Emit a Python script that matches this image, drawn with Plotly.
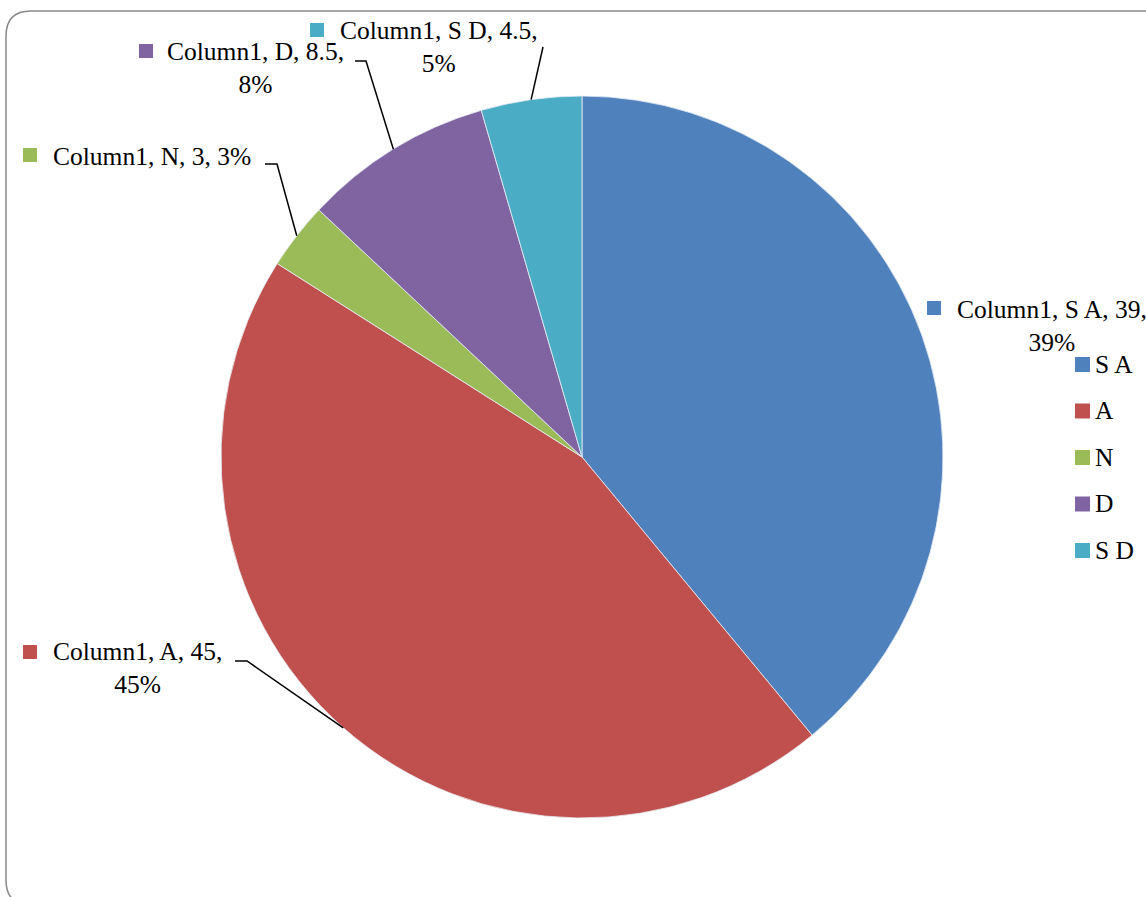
import numpy as np
import plotly.graph_objects as go

# ---- data ----
categories = ["S A", "A", "N", "D", "S D"]
values = [39, 45, 3, 8.5, 4.5]
pct_labels = ["39%", "45%", "3%", "8%", "5%"]
series_name = "Column1"
colors = ["#4F81BD", "#C0504D", "#9BBB59", "#8064A2", "#4BACC6"]

# ---- layout constants (pixels) ----
W, H = 1146, 897
CX, CY, R = 582, 457, 361
FONT = "Liberation Serif"
FS = 25.5


def px(x):
    return x / W


def py(y):
    return 1 - y / H


# data label placement (pixel positions of callouts)
label_layout = {
    "S A": dict(sq=(927, 301), tx=955, ty=326, wrap=True, lead=None),
    "A": dict(sq=(23, 645), tx=51, ty=668, wrap=True, lead=[(235, 661), (247, 661)]),
    "N": dict(sq=(23, 148), tx=51, ty=157, wrap=False, lead=[(265, 164), (277, 164)]),
    "D": dict(sq=(139, 44), tx=165, ty=68, wrap=True, lead=[(355, 61), (366, 61)]),
    "S D": dict(sq=(310, 23), tx=338, ty=47, wrap=True, lead=[(543, 47)]),
}

fig = go.Figure(
    go.Pie(
        labels=categories,
        values=values,
        sort=False,
        direction="clockwise",
        rotation=0,
        marker=dict(colors=colors, line=dict(color="#e8eef6", width=0.8)),
        textinfo="none",
        hoverinfo="label+value+percent",
        showlegend=False,
        domain=dict(x=[px(CX - R), px(CX + R)], y=[py(CY + R), py(CY - R)]),
    )
)

shapes = []
annotations = []

# chart frame (rounded rectangle, partly off-page)
fx0, fy0, rad = 6, 11, 25
path = (
    f"M {px(fx0 + rad)},{py(H + 8)} Q {px(fx0)},{py(H + 8)} {px(fx0)},{py(H + 8 - rad)} "
    f"L {px(fx0)},{py(fy0 + rad)} Q {px(fx0)},{py(fy0)} {px(fx0 + rad)},{py(fy0)} "
    f"L {px(W + 10)},{py(fy0)}"
)
shapes.append(dict(type="path", xref="paper", yref="paper", path=path,
                   line=dict(color="#8a8a8a", width=1.5)))

# data labels with leader lines
total = sum(values)
cum = np.cumsum([0] + values)
for i, cat in enumerate(categories):
    lay = label_layout[cat]
    val = values[i]
    pct = pct_labels[i]
    if lay["wrap"]:
        text = f"{series_name}, {cat}, {val:g},<br>{pct}"
    else:
        text = f"{series_name}, {cat}, {val:g}, {pct}"
    annotations.append(dict(
        x=px(lay["tx"]), y=py(lay["ty"]), xref="paper", yref="paper",
        text=text, showarrow=False, xanchor="left", yanchor="middle", align="center",
        font=dict(family=FONT, size=FS, color="#000000"),
    ))
    sx, sy = lay["sq"]
    shapes.append(dict(type="rect", xref="paper", yref="paper",
                       x0=px(sx), x1=px(sx + 14), y0=py(sy), y1=py(sy + 14),
                       fillcolor=colors[i], line=dict(width=0)))
    if lay["lead"]:
        mid = (cum[i] + cum[i + 1]) / 2 / total * 2 * np.pi
        ex = CX + R * np.sin(mid)
        ey = CY - R * np.cos(mid)
        pts = lay["lead"] + [(ex, ey)]
        p = "M " + " L ".join(f"{px(a)},{py(b)}" for a, b in pts)
        shapes.append(dict(type="path", xref="paper", yref="paper", path=p,
                           line=dict(color="#000000", width=1.5)))

# legend (manual, to match item spacing)
for i, cat in enumerate(categories):
    yc = 364.5 + 46.5 * i
    shapes.append(dict(type="rect", xref="paper", yref="paper",
                       x0=px(1075), x1=px(1090), y0=py(yc - 7.5), y1=py(yc + 7.5),
                       fillcolor=colors[i], line=dict(width=0)))
    annotations.append(dict(
        x=px(1093), y=py(yc), xref="paper", yref="paper", text=cat, showarrow=False,
        xanchor="left", yanchor="middle", font=dict(family=FONT, size=FS, color="#000000"),
    ))

fig.update_layout(
    width=W, height=H,
    margin=dict(l=0, r=0, t=0, b=0),
    paper_bgcolor="#ffffff", plot_bgcolor="#ffffff",
    shapes=shapes, annotations=annotations,
    showlegend=False,
)

fig.write_html("out.html")
